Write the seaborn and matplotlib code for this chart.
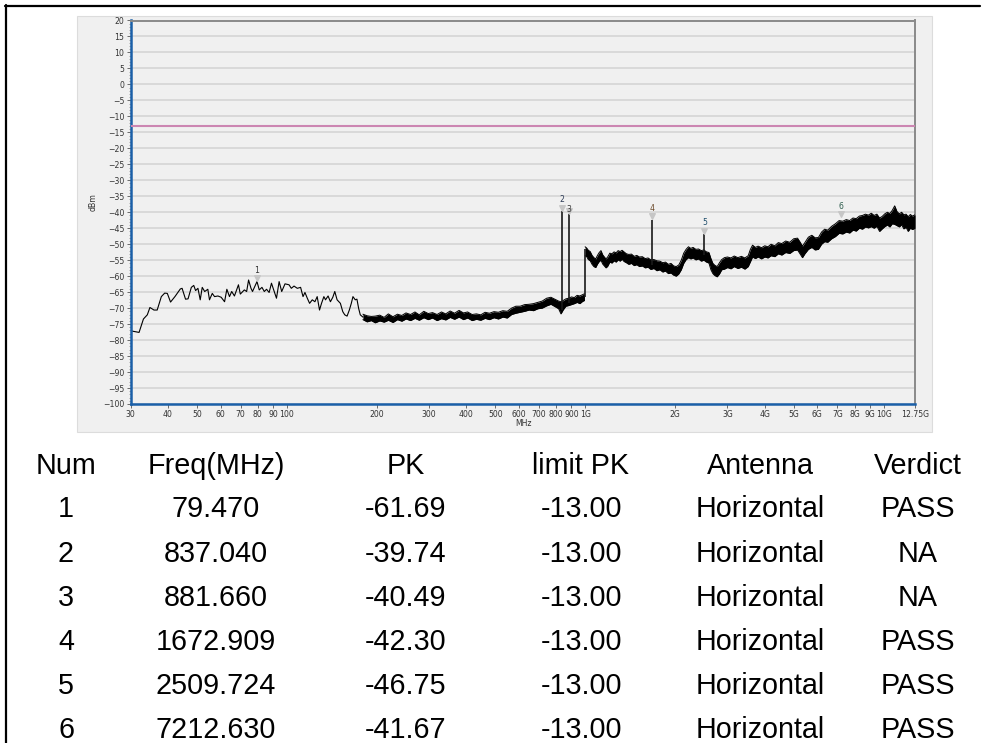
import matplotlib
matplotlib.use("Agg")
import matplotlib.pyplot as plt
import matplotlib.transforms as mtransforms
from matplotlib.patches import Rectangle
from matplotlib.lines import Line2D
from matplotlib.ticker import MultipleLocator, NullLocator
import seaborn as sns

# low frequency trace (MHz, dBm)
low_f = [30.0, 32.0, 33.1, 34.1, 34.8, 35.9, 36.8, 38.0, 39.0, 39.8, 40.8, 42.2, 44.0, 44.6,
         45.8, 46.7, 47.9, 48.8, 49.5, 50.4, 51.3, 52.1, 53.1, 54.4, 55.1, 56.3, 57.3, 58.8,
         60.3, 61.9, 63.0, 64.3, 65.4, 66.8, 68.9, 69.9, 72.1, 73.4, 74.5, 75.9, 76.8, 79.5,
         80.9, 82.6, 84.1, 85.6, 87.3, 88.9, 90.8, 92.4, 94.3, 96.2, 98.7, 101.8, 103.6, 105.8,
         108.5, 111.3, 113.4, 115.1, 117.2, 119.3, 121.8, 124.3, 126.5, 128.8, 130.8, 133.2,
         134.9, 137.6, 140.1, 142.7, 144.9, 147.5, 151.3, 154.1, 156.5, 159.3, 162.1, 164.6,
         166.7, 169.7, 171.9, 174.2, 176.4, 180.0]
low_db = [-77.1, -77.6, -73.4, -72.1, -69.8, -70.6, -70.6, -66.4, -65.3, -65.4, -68.1, -66.4,
          -64.0, -63.8, -67.2, -67.1, -63.5, -62.9, -64.5, -63.8, -67.4, -63.5, -64.8, -64.1,
          -67.4, -65.4, -66.4, -66.2, -66.6, -68.0, -64.1, -66.4, -64.8, -66.2, -62.7, -65.6,
          -64.3, -64.8, -61.2, -63.8, -64.8, -61.7, -64.3, -63.5, -64.8, -64.1, -65.1, -62.2,
          -64.8, -66.9, -61.7, -64.8, -62.4, -62.7, -63.8, -63.1, -63.8, -63.5, -66.4, -65.1,
          -66.9, -68.5, -67.4, -68.0, -66.4, -70.6, -68.5, -66.4, -67.4, -66.2, -68.0, -66.6,
          -64.8, -67.4, -68.5, -71.1, -72.1, -72.5, -70.6, -68.5, -66.4, -67.4, -67.2, -70.1,
          -72.1, -72.8]

# noisy band, 180 MHz - 1 GHz: lower / upper envelope
band1_f = [180, 186, 192, 198, 205, 212, 219, 227, 235, 243, 251, 260, 269, 278, 288, 298,
           308, 319, 330, 341, 353, 365, 378, 391, 404, 418, 432, 447, 462, 478, 495, 512,
           530, 548, 567, 586, 606, 627, 649, 671, 694, 718, 743, 768, 795, 815, 830, 845,
           862, 880, 900, 920, 940, 960, 980, 995]
band1_lo = [-73.6, -74.3, -73.9, -74.6, -74.0, -74.4, -73.8, -74.5, -73.6, -74.1, -73.4, -73.9,
            -73.2, -73.8, -73.0, -73.6, -73.1, -73.9, -73.3, -73.7, -72.9, -73.5, -72.8, -73.6,
            -73.1, -73.9, -73.5, -73.8, -73.2, -73.6, -73.0, -73.4, -72.8, -73.1, -72.0, -71.6,
            -71.3, -71.0, -70.6, -70.8, -70.2, -70.0, -69.3, -68.8, -69.6, -70.2, -71.8, -70.5,
            -69.4, -69.2, -68.9, -68.6, -68.2, -68.6, -67.9, -67.6]
band1_hi = [-71.9, -72.4, -72.6, -72.5, -72.2, -72.9, -71.8, -72.7, -71.9, -72.3, -71.5, -72.0,
            -71.2, -72.1, -71.0, -71.7, -71.4, -72.0, -71.2, -71.8, -70.9, -71.6, -70.7, -71.5,
            -71.2, -72.0, -71.8, -72.1, -71.3, -71.6, -71.1, -71.3, -70.8, -71.0, -70.0, -69.4,
            -69.4, -68.9, -68.8, -68.6, -68.2, -67.8, -66.9, -66.6, -67.3, -67.8, -68.0, -67.6,
            -67.1, -66.9, -66.5, -66.7, -66.0, -66.2, -65.8, -65.5]

# noisy band, 1 GHz - 12.75 GHz: lower / upper envelope
band2_f = [1000, 1012, 1025, 1040, 1055, 1070, 1085, 1100, 1115, 1130, 1145, 1160, 1175, 1190,
           1210, 1230, 1250, 1270, 1290, 1310, 1330, 1350, 1375, 1400, 1430, 1460, 1490, 1520,
           1555, 1590, 1625, 1660, 1700, 1740, 1780, 1820, 1860, 1900, 1940, 1980, 2020, 2060,
           2100, 2140, 2180, 2220, 2260, 2300, 2350, 2400, 2450, 2500, 2550, 2600, 2640, 2680,
           2720, 2770, 2820, 2870, 2930, 3000, 3080, 3160, 3250, 3340, 3430, 3520, 3580, 3640,
           3720, 3800, 3900, 4000, 4100, 4200, 4320, 4440, 4560, 4700, 4850, 5000, 5150, 5250,
           5350, 5450, 5600, 5750, 5900, 6050, 6200, 6350, 6500, 6700, 6900, 7100, 7300, 7500,
           7700, 7900, 8100, 8300, 8500, 8700, 8900, 9100, 9300, 9500, 9700, 9900, 10100, 10300,
           10500, 10700, 10900, 11100, 11300, 11500, 11700, 11900, 12100, 12300, 12500, 12750]
band2_lo = [-53.6, -53.9, -54.8, -55.2, -56.3, -57.0, -57.3, -56.2, -55.4, -55.0, -56.2, -56.8,
            -57.4, -56.9, -55.6, -55.9, -55.2, -55.6, -54.9, -55.3, -54.7, -55.4, -55.8, -56.3,
            -56.0, -56.7, -56.4, -57.0, -56.8, -57.4, -57.2, -57.9, -57.6, -58.3, -58.0, -58.7,
            -58.4, -59.2, -59.0, -59.7, -60.0, -59.3, -58.0, -56.0, -54.8, -54.2, -54.6, -54.3,
            -54.9, -54.6, -55.3, -55.0, -55.6, -55.9, -58.0, -59.2, -59.8, -60.2, -59.3, -58.0,
            -57.8, -57.3, -57.7, -57.0, -57.6, -57.2, -57.8, -57.0, -55.5, -54.0, -54.5, -54.0,
            -54.6, -54.0, -54.3, -53.6, -53.9, -53.0, -53.4, -52.6, -52.9, -52.0, -51.8, -53.0,
            -54.2, -53.0, -51.6, -51.0, -51.8, -51.6, -50.0, -49.2, -49.4, -48.3, -47.6, -46.6,
            -46.8, -46.2, -46.5, -45.6, -45.9, -45.0, -45.3, -44.6, -44.9, -44.5, -45.0, -44.4,
            -46.0, -45.2, -44.5, -44.0, -44.6, -43.6, -43.8, -44.2, -44.6, -43.9, -45.2, -44.7,
            -46.0, -45.0, -45.4, -45.0]
band2_hi = [-50.8, -51.2, -51.9, -52.3, -53.5, -54.2, -54.6, -53.5, -52.6, -52.0, -53.3, -54.0,
            -54.6, -54.0, -52.8, -53.0, -52.4, -52.7, -52.0, -52.3, -51.9, -52.4, -53.0, -53.2,
            -53.1, -53.8, -53.5, -54.0, -53.9, -54.5, -54.3, -54.9, -54.8, -55.2, -55.3, -55.8,
            -55.6, -56.3, -56.0, -56.8, -57.0, -56.5, -55.0, -52.8, -51.6, -50.8, -51.3, -51.0,
            -51.6, -51.5, -52.0, -51.8, -52.4, -52.6, -54.5, -56.0, -56.6, -57.0, -55.8, -54.8,
            -54.2, -54.0, -54.3, -53.7, -54.2, -53.8, -54.3, -53.6, -51.6, -50.3, -51.0, -50.6,
            -51.1, -50.5, -50.8, -50.0, -50.5, -49.5, -49.8, -49.0, -49.4, -48.3, -48.1, -49.3,
            -50.6, -49.5, -47.8, -47.2, -48.0, -47.9, -46.2, -45.3, -45.6, -44.4, -43.6, -42.6,
            -42.8, -42.3, -42.6, -41.8, -42.0, -41.2, -41.0, -40.6, -40.9, -40.3, -41.0, -40.6,
            -41.8, -41.3, -40.5, -40.0, -40.4, -39.4, -38.0, -39.8, -40.5, -40.0, -40.8, -40.6,
            -41.4, -40.7, -41.2, -40.8]

# markers (from the table)
mk_num = [1, 2, 3, 4, 5, 6]
mk_freq = [79.470, 837.040, 881.660, 1672.909, 2509.724, 7212.630]
mk_pk = [-61.69, -39.74, -40.49, -42.30, -46.75, -41.67]
mk_limit = [-13.00, -13.00, -13.00, -13.00, -13.00, -13.00]
mk_ant = ["Horizontal"] * 6
mk_verdict = ["PASS", "NA", "NA", "PASS", "PASS", "PASS"]
mk_colors = ["#333333", "#2b3a55", "#3a3a3a", "#6b4a2a", "#1f4e6b", "#2f5e4e"]
mk_label_off = [11.5, 11.5, 4.5, 11.5, 11.5, 11.5]

# narrow spikes and the 1 GHz step: frequency, base, top
spike_f = [837.040, 881.660, 1672.909, 2509.724, 997.0]
spike_base = [-70.5, -68.5, -56.5, -53.5, -66.5]
spike_top = [-39.74, -40.49, -42.30, -46.75, -51.5]

limit_db = -13.0

x_ticks = [30, 40, 50, 60, 70, 80, 90, 100, 200, 300, 400, 500, 600, 700, 800, 900, 1000,
           2000, 3000, 4000, 5000, 6000, 7000, 8000, 9000, 10000, 12750]
x_labels = ["30", "40", "50", "60", "70", "80", "90", "100", "200", "300", "400", "500",
            "600", "700", "800", "900", "1G", "2G", "3G", "4G", "5G", "6G", "7G", "8G", "9G",
            "10G", "12.75G"]

headers = ["Num", "Freq(MHz)", "PK", "limit PK", "Antenna", "Verdict"]

sns.set_style("white")
plt.rcParams["font.family"] = ["DejaVu Sans"]

W, H = 990, 743
fig = plt.figure(figsize=(W / 100, H / 100), dpi=100)


def fx(px):
    return px / W


def fy(py):
    return 1 - py / H


# outer frame and grey chart panel (behind the axes)
fig.add_artist(Line2D([fx(6), fx(6)], [fy(5), fy(743)], color="black", lw=1.6))
fig.add_artist(Line2D([fx(5), fx(980)], [fy(6), fy(6)], color="black", lw=1.6))
panel = Rectangle((fx(77), fy(432)), fx(932) - fx(77), fy(16) - fy(432),
                  facecolor="#f0f0f0", edgecolor="#dcdcdc", lw=0.8, zorder=-10)
fig.add_artist(panel)

ax = fig.add_axes([fx(130.7), fy(404), fx(915) - fx(130.7), fy(20.5) - fy(404)])
ax.set_zorder(5)
ax.set_facecolor("#f0f0f0")
ax.set_xscale("log")

ax.axhline(limit_db, color="#cc86b2", lw=1.5, zorder=3)

sns.lineplot(x=low_f, y=low_db, ax=ax, color="black", lw=0.8, estimator=None, sort=False)
for bf, blo, bhi in [(band1_f, band1_lo, band1_hi), (band2_f, band2_lo, band2_hi)]:
    ax.fill_between(bf, blo, bhi, color="black", lw=0, zorder=3)
    ax.plot(bf, blo, color="black", lw=0.7, zorder=3)
    ax.plot(bf, bhi, color="black", lw=0.7, zorder=3)
ax.vlines(spike_f, spike_base, spike_top, color="#1a1a1a", lw=1.2, zorder=3)

tri_tr = mtransforms.offset_copy(ax.transData, fig=fig, y=3.2, units="dots")
ax.scatter(mk_freq, mk_pk, marker="v", s=16, color="#c6c6c6", transform=tri_tr, zorder=4)
for n, f, p, c, off in zip(mk_num, mk_freq, mk_pk, mk_colors, mk_label_off):
    ax.annotate(str(n), (f, p), xytext=(0, off * 0.72), textcoords="offset points",
                ha="center", va="center", fontsize=5.6, color=c, zorder=5)

ax.set_xlim(30, 12750)
ax.set_ylim(-100, 20)
ax.yaxis.set_major_locator(MultipleLocator(5))
ax.yaxis.set_minor_locator(MultipleLocator(1))
ax.grid(axis="y", which="major", color="#d9d9d9", lw=1.4)
ax.grid(axis="x", visible=False)
ax.set_axisbelow(True)
ax.set_xticks(x_ticks)
ax.set_xticklabels(x_labels)
ax.xaxis.set_minor_locator(NullLocator())
ax.tick_params(axis="both", which="major", labelsize=5.6, length=3, width=0.6,
               colors="#555555", labelcolor="#333333", pad=1.5, left=True, bottom=True)
ax.tick_params(axis="y", which="minor", length=1.5, width=0.5, colors="#888888", left=True)

for side in ["left", "bottom"]:
    ax.spines[side].set_color("#1a5fa8")
    ax.spines[side].set_linewidth(1.8)
for side in ["top", "right"]:
    ax.spines[side].set_color("#8a8a8a")
    ax.spines[side].set_linewidth(1.4)

ax.set_xlabel("")
ax.set_ylabel("")
fig.text(fx(523), fy(423), "MHz", ha="center", va="center", fontsize=5.6, color="#333333")
fig.text(fx(93), fy(202), "dBm", ha="center", va="center", rotation=90, fontsize=5.6,
         color="#333333")

# results table under the chart
col_x = [66, 216, 406, 581, 760, 918]
row_base = [474.3, 517.3, 561.5, 605.7, 649.9, 694.1, 738.3]
tfont = dict(ha="center", va="baseline", fontsize=20.7, family=["Liberation Sans", "DejaVu Sans"],
             color="black")
for cx, h in zip(col_x, headers):
    fig.text(fx(cx), fy(row_base[0]), h, **tfont)
for i in range(len(mk_num)):
    cells = [str(mk_num[i]), "%.3f" % mk_freq[i], "%.2f" % mk_pk[i], "%.2f" % mk_limit[i],
             mk_ant[i], mk_verdict[i]]
    for cx, s in zip(col_x, cells):
        fig.text(fx(cx), fy(row_base[i + 1]), s, **tfont)

fig.savefig("out.png", dpi=100)
